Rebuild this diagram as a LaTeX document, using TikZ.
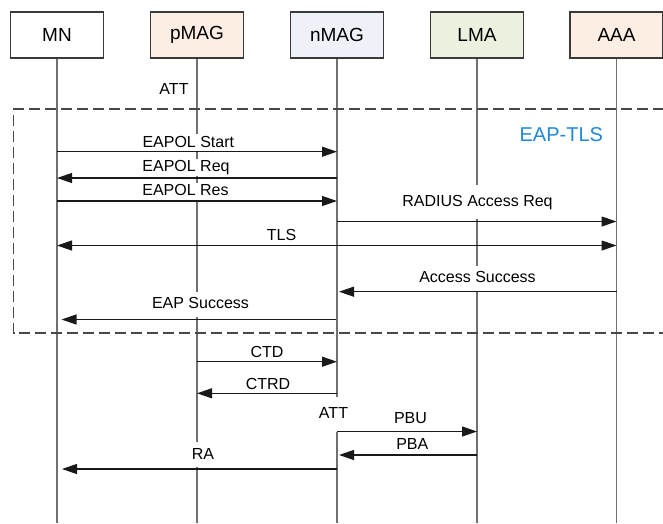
\documentclass[tikz,border=0pt]{standalone}
\usepackage{fontspec}
\setmainfont{Liberation Sans}
\usetikzlibrary{arrows.meta}
\definecolor{peach}{HTML}{FDEEE4}
\definecolor{bluegray}{HTML}{EEF2F8}
\definecolor{palegreen}{HTML}{EBF1DE}
\definecolor{boxline}{HTML}{3A3A3A}
\definecolor{lifegray}{HTML}{707070}
\definecolor{framegray}{HTML}{484848}
\definecolor{tlsblue}{HTML}{2088D6}
\begin{document}
\begin{tikzpicture}[x=1pt,y=-1pt,
  actor/.style={draw=boxline, line width=1.1pt, minimum width=93pt, minimum height=46pt,
    inner sep=0pt, font=\fontsize{19}{22}\selectfont},
  life/.style={draw=lifegray, line width=1.4pt},
  frame/.style={draw=framegray, line width=1.2pt, dash pattern=on 11pt off 5pt},
  lbl/.style={fill=white, anchor=base, inner xsep=2pt, inner ysep=5pt,
    text height=12pt, text depth=3pt, font=\fontsize{16}{19}\selectfont},
  tight/.style={inner ysep=1pt},
  tall/.style={inner ysep=9.5pt},
  msg/.style={draw=black!90, line width=1.2pt, -{Triangle[length=15pt,width=10pt]}},
  msgboth/.style={draw=black!90, line width=1.2pt,
    {Triangle[length=15pt,width=10pt]}-{Triangle[length=15pt,width=10pt]}}]
\useasboundingbox (0,0) rectangle (663,523);

% participants
\node[actor, fill=white]     (MN)   at (57,35)    {MN};
\node[actor, fill=peach]     (pMAG) at (197,35)   {pMAG};
\node[actor, fill=bluegray]  (nMAG) at (337,35)   {nMAG};
\node[actor, fill=palegreen] (LMA)  at (477,35)   {LMA};
\node[actor, fill=peach]     (AAA)  at (616.5,35) {AAA};

% lifelines
\foreach \p in {MN,pMAG,nMAG,LMA,AAA}{
  \coordinate (\p-end) at (\p.south |- 0,523);
  \draw[life] (\p) -- (\p-end);
}

% EAP-TLS phase frame (open on the right)
\draw[frame] (664,109) -- (13.6,109) -- (13.6,333) -- (664,333);
\node[font=\fontsize{20}{23}\selectfont, text=tlsblue, anchor=base] (eaptls) at (561.3,141.4) {EAP-TLS};

% message labels
\node[lbl] (att1)   at (174,94.75)     {ATT};
\node[lbl,tight] (lstart) at (188.3,147.45) {EAPOL Start};
\node[lbl,tight] (lreq)   at (186,171.75)   {EAPOL Req};
\node[lbl,tight] (lres)   at (185.5,195.75) {EAPOL Res};
\node[lbl,tall]  (lrad)   at (477.5,206.45) {RADIUS Access Req};
\node[lbl] (ltls)   at (281.5,240.75)  {TLS};
\node[lbl] (lacc)   at (477.5,282.75)  {Access Success};
\node[lbl] (leap)   at (200.5,308.75)  {EAP Success};
\node[lbl] (lctd)   at (267,357.45)    {CTD};
\node[lbl] (lctrd)  at (268,389.05)    {CTRD};
\node[lbl,inner ysep=10pt] (att2) at (333.5,418.75) {ATT};
\node[lbl] (lpbu)   at (410.5,423.05)  {PBU};
\node[lbl] (lpba)   at (412.3,449.05)  {PBA};
\node[lbl] (lra)    at (203,459.05)    {RA};

% messages
\draw[msg] (MN |- 0,151.7) -- (nMAG |- 0,151.7);
\draw[msg] (nMAG |- 0,178) -- (MN |- 0,178);
\draw[msg] (MN |- 0,201) -- (nMAG |- 0,201);
\draw[msg] (nMAG |- 0,221.5) -- (AAA |- 0,221.5);
\draw[msgboth] (MN |- 0,245.5) -- (AAA |- 0,245.5);
\draw[msg, shorten >=2pt] (AAA |- 0,291.7) -- (nMAG |- 0,291.7);
\draw[msg, shorten <=1.5pt, shorten >=4.5pt] (nMAG |- 0,319.5) -- (MN |- 0,319.5);
\draw[msg] (pMAG |- 0,361.7) -- (nMAG |- 0,361.7);
\draw[msg] (nMAG |- 0,393.3) -- (pMAG |- 0,393.3);
\draw[msg] (nMAG |- 0,431.5) -- (LMA |- 0,431.5);
\draw[msg, shorten >=2pt] (LMA |- 0,455) -- (nMAG |- 0,455);
\draw[msg, shorten >=5pt] (nMAG |- 0,469) -- (MN |- 0,469);
\end{tikzpicture}
\end{document}
